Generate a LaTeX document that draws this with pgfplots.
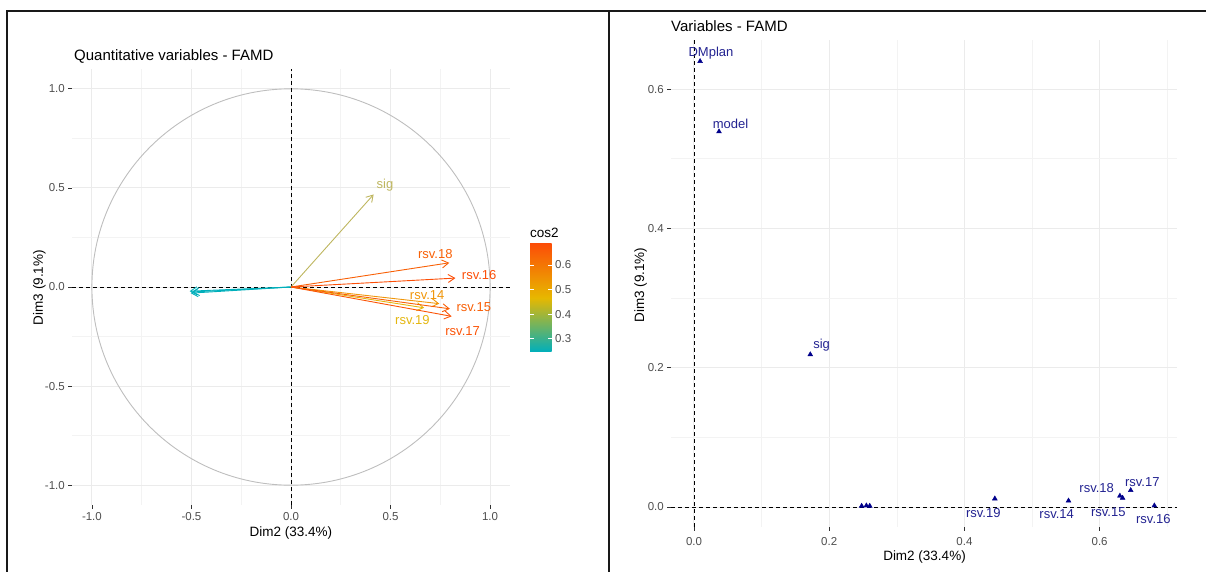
\documentclass[border=0pt]{standalone}
\usepackage{pgfplots}
\pgfplotsset{compat=1.18}
\usepackage{fontspec}
\setmainfont{Liberation Sans}
\usetikzlibrary{arrows.meta}
\definecolor{gridmaj}{RGB}{235,235,235}
\definecolor{gridmin}{RGB}{243,243,243}
\definecolor{ggtick}{RGB}{51,51,51}
\definecolor{ggtext}{RGB}{77,77,77}
\definecolor{circ}{RGB}{190,190,190}
\definecolor{cteal}{RGB}{0,175,187}
\definecolor{cyel}{RGB}{231,184,0}
\definecolor{cred}{RGB}{252,78,7}
\definecolor{csig}{RGB}{190,182,95}
\definecolor{c19}{RGB}{228,182,15}
\definecolor{c14}{RGB}{240,150,10}
\definecolor{c18}{RGB}{248,96,6}
\definecolor{c15}{RGB}{248,95,6}
\definecolor{c17}{RGB}{251,84,7}
\definecolor{c16}{RGB}{252,78,7}
\definecolor{navy}{RGB}{0,0,139}
\definecolor{navytext}{RGB}{35,35,145}
\newcommand\ticksz{\fontsize{11.5}{13}\selectfont}
\newcommand\labsz{\fontsize{13.5}{15}\selectfont}
\newcommand\titsz{\fontsize{15}{17}\selectfont}
\newcommand\ptsz{\fontsize{13}{15}\selectfont}
\pgfplotsset{gg/.style={scale only axis, anchor=south west,
  axis line style={draw=none}, grid=both,
  major grid style={draw=gridmaj,line width=1pt},
  minor grid style={draw=gridmin,line width=0.6pt},
  tick align=outside, xtick pos=left, ytick pos=left,
  major tick length=3.7pt, minor tick length=0pt,
  tick style={draw=ggtick,line width=0.8pt},
  ticklabel style={font=\ticksz, text=ggtext},
  clip=false}}
\tikzset{arr/.style={line width=0.9pt, -{Straight Barb[length=6.5pt,width=8pt]}}}
\begin{document}
\begin{tikzpicture}
\path[use as bounding box] (0,0) rectangle (1206pt,-572pt);
% frames
\draw[line width=2pt, black!90] (7pt,-572pt) -- (7pt,-11pt) -- (1206pt,-11pt);
\draw[line width=2pt, black!90] (608.7pt,-11pt) -- (608.7pt,-572pt);
% ---------- left panel ----------
\begin{axis}[gg, at={(72pt,-505pt)}, width=438pt, height=436pt,
  xmin=-1.1, xmax=1.1, ymin=-1.1, ymax=1.1,
  xtick={-1,-0.5,0,0.5,1}, xticklabels={-1.0,-0.5,0.0,0.5,1.0},
  ytick={-1,-0.5,0,0.5,1}, yticklabels={-1.0,-0.5,0.0,0.5,1.0},
  minor xtick={-0.75,-0.25,0.25,0.75}, minor ytick={-0.75,-0.25,0.25,0.75}]
\draw[circ, line width=0.9pt] (axis cs:0,0) ellipse [x radius=1, y radius=1];
\addplot[black, line width=0.9pt, dash pattern=on 4pt off 3pt] coordinates {(-1.1,0) (1.1,0)};
\addplot[black, line width=0.9pt, dash pattern=on 4pt off 3pt] coordinates {(0,-1.1) (0,1.1)};
\addplot[cteal, arr] coordinates {(0,0) (-0.497,-0.025)};
\addplot[cteal, arr] coordinates {(0,0) (-0.504,-0.031)};
\addplot[cteal, arr] coordinates {(0,0) (-0.509,-0.021)};
\addplot[csig, arr] coordinates {(0,0) (0.415,0.467)};
\addplot[c19, arr] coordinates {(0,0) (0.669,-0.105)};
\addplot[c14, arr] coordinates {(0,0) (0.745,-0.084)};
\addplot[c18, arr] coordinates {(0,0) (0.795,0.122)};
\addplot[c16, arr] coordinates {(0,0) (0.826,0.045)};
\addplot[c15, arr] coordinates {(0,0) (0.798,-0.110)};
\addplot[c17, arr] coordinates {(0,0) (0.807,-0.148)};
\node[text=csig, font=\ptsz, inner sep=0pt] at (axis cs:0.472,0.515) {sig};
\node[text=c18, font=\ptsz, inner sep=0pt] at (axis cs:0.725,0.167) {rsv.18};
\node[text=c16, font=\ptsz, inner sep=0pt] at (axis cs:0.945,0.062) {rsv.16};
\node[text=c14, font=\ptsz, inner sep=0pt] at (axis cs:0.684,-0.043) {rsv.14};
\node[text=c15, font=\ptsz, inner sep=0pt] at (axis cs:0.918,-0.101) {rsv.15};
\node[text=c19, font=\ptsz, inner sep=0pt] at (axis cs:0.610,-0.167) {rsv.19};
\node[text=c17, font=\ptsz, inner sep=0pt] at (axis cs:0.862,-0.220) {rsv.17};
\end{axis}
% colourbar
\begin{axis}[at={(530pt,-351.7pt)}, anchor=south west, scale only axis,
  width=21.7pt, height=107.7pt, xmin=0, xmax=1, ymin=0.248, ymax=0.685,
  axis line style={draw=none}, xtick=\empty,
  ytick={0.3,0.4,0.5,0.6}, yticklabels={0.3,0.4,0.5,0.6},
  yticklabel pos=right, ytick pos=both, tick align=inside,
  major tick length=4pt, tick style={draw=white,line width=0.8pt},
  yticklabel style={font=\ticksz, text=ggtext}, axis on top]
\shade[top color=cred, bottom color=cteal, middle color=cyel] (axis cs:0,0.248) rectangle (axis cs:1,0.685);
\end{axis}
\node[anchor=base west, font=\labsz, inner sep=0pt] at (530pt,-237.5pt) {cos2};
\node[anchor=base west, font=\titsz, inner sep=0pt] at (74pt,-61pt) {Quantitative variables - FAMD};
\node[font=\labsz, inner sep=0pt] at (291pt,-533pt) {Dim2 (33.4\%)};
\node[font=\labsz, inner sep=0pt, rotate=90] at (39.5pt,-287.5pt) {Dim3 (9.1\%)};
% ---------- right panel ----------
\begin{axis}[gg, at={(671pt,-527pt)}, width=506pt, height=487pt,
  xmin=-0.034, xmax=0.7145, ymin=-0.0287, ymax=0.6705,
  xtick={0,0.2,0.4,0.6}, xticklabels={0.0,0.2,0.4,0.6},
  ytick={0,0.2,0.4,0.6}, yticklabels={0.0,0.2,0.4,0.6},
  minor xtick={0.1,0.3,0.5,0.7}, minor ytick={0.1,0.3,0.5},
  xticklabel style={yshift=-3pt}]
\addplot[black, line width=0.9pt, dash pattern=on 4pt off 3pt] coordinates {(-0.034,0) (0.7145,0)};
\addplot[black, line width=0.9pt, dash pattern=on 4pt off 3pt] coordinates {(0,-0.0287) (0,0.6705)};
\addplot[only marks, mark=triangle*, mark size=2.8pt, color=navy] coordinates {
(0.009,0.640) (0.037,0.539) (0.172,0.219) (0.248,0.0015) (0.255,0.002) (0.260,0.0015)
(0.445,0.012) (0.554,0.009) (0.630,0.016) (0.634,0.013) (0.646,0.024) (0.681,0.002)};
\node[text=navytext, font=\ptsz, inner sep=0pt] at (axis cs:0.0251,0.6518) {DMplan};
\node[text=navytext, font=\ptsz, inner sep=0pt] at (axis cs:0.0540,0.5508) {model};
\node[text=navytext, font=\ptsz, inner sep=0pt] at (axis cs:0.1888,0.2317) {sig};
\node[text=navytext, font=\ptsz, inner sep=0pt] at (axis cs:0.4280,-0.0082) {rsv.19};
\node[text=navytext, font=\ptsz, inner sep=0pt] at (axis cs:0.5365,-0.0105) {rsv.14};
\node[text=navytext, font=\ptsz, inner sep=0pt] at (axis cs:0.5957,0.0277) {rsv.18};
\node[text=navytext, font=\ptsz, inner sep=0pt] at (axis cs:0.6129,-0.0068) {rsv.15};
\node[text=navytext, font=\ptsz, inner sep=0pt] at (axis cs:0.6632,0.0363) {rsv.17};
\node[text=navytext, font=\ptsz, inner sep=0pt] at (axis cs:0.6795,-0.0168) {rsv.16};
\end{axis}
\node[anchor=base west, font=\titsz, inner sep=0pt] at (671pt,-31.5pt) {Variables - FAMD};
\node[font=\labsz, inner sep=0pt] at (924.5pt,-556.6pt) {Dim2 (33.4\%)};
\node[font=\labsz, inner sep=0pt, rotate=90] at (640.5pt,-285pt) {Dim3 (9.1\%)};
\end{tikzpicture}
\end{document}
